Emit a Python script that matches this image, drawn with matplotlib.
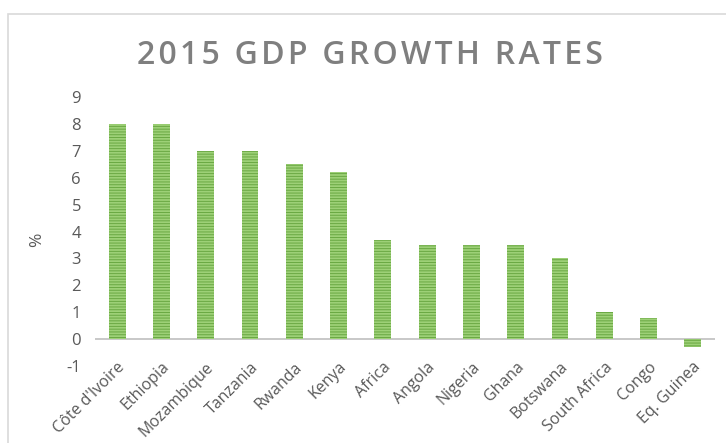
import matplotlib.pyplot as plt
from matplotlib.patches import Rectangle

countries = ["Côte d'Ivoire", "Ethiopia", "Mozambique", "Tanzania", "Rwanda", "Kenya",
             "Africa", "Angola", "Nigeria", "Ghana", "Botswana", "South Africa",
             "Congo", "Eq. Guinea"]
growth = [8.0, 8.0, 7.0, 7.0, 6.5, 6.2, 3.7, 3.5, 3.5, 3.5, 3.0, 1.0, 0.8, -0.3]
yticks = list(range(-1, 10))
title = '2015 GDP GROWTH RATES'

plt.rcParams['font.family'] = ['Open Sans', 'DejaVu Sans']
plt.rcParams['hatch.linewidth'] = 0.7
plt.rcParams['axes.unicode_minus'] = False

fig = plt.figure(figsize=(7.26, 4.43), dpi=100)
fig.patches.append(Rectangle((8 / 726, -0.1), 1.0, (443 - 14) / 443 + 0.1,
                             transform=fig.transFigure, fill=False,
                             edgecolor='#d9d9d9', linewidth=1.2))

ax = fig.add_axes([95 / 726, (443 - 366) / 443, 620 / 726, 269 / 443])
x = range(len(countries))
ax.bar(x, growth, width=0.38, color='#9dd077', edgecolor='#6aa843',
       hatch='------', linewidth=0)

ax.set_xlim(-0.5, len(countries) - 0.5)
ax.set_ylim(-1, 9)
ax.set_yticks(yticks)
ax.set_xticks(list(x))
ax.set_xticklabels(countries, rotation=45, ha='right', va='top',
                   rotation_mode='anchor', fontsize=11.5, color='#595959')
ax.tick_params(axis='y', length=0, labelsize=12, labelcolor='#595959', pad=10)
ax.tick_params(axis='x', length=0, pad=-5)
for s in ax.spines.values():
    s.set_visible(False)
ax.axhline(0, color='#bfbfbf', linewidth=1.2, zorder=0)
ax.set_ylabel('%', color='#595959', fontsize=12.5)
ax.yaxis.set_label_coords(-0.08, 0.47)

# spaced-out title, like the original
fig.text(370 / 726, 1 - 55 / 443, '\u200a'.join(title), ha='center', va='center',
         fontsize=23, fontweight='semibold', color='#7f7f7f')

plt.savefig('out.png', dpi=100)
